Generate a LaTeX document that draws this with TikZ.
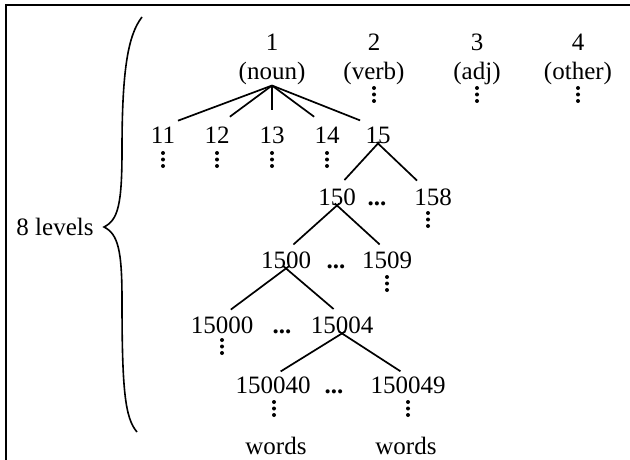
\documentclass[tikz,border=0pt]{standalone}
\usepackage{fontspec}
\setmainfont{Liberation Serif}
\tikzset{
  lbl/.style={inner sep=0pt, anchor=base, font=\fontsize{25}{28}\selectfont},
  ell/.style={inner sep=0pt, anchor=base, font=\fontsize{25}{28}\selectfont\bfseries},
  edge/.style={line width=1.7pt},
  frame/.style={line width=1.8pt},
  vd/.pic={\fill (0,0) circle (2) (0,6.5) circle (2) (0,13) circle (2);}
}
\begin{document}
\begin{tikzpicture}[x=1pt,y=-1pt]
\useasboundingbox (0,0) rectangle (630,460);
% frame
\draw[frame] (630,5) -- (6,5) -- (6,460);
% brace
\draw[line width=1.6pt] (142,17) .. controls (128,35) and (122,70) .. (122,150)
  .. controls (122,205) and (118,220) .. (104,227)
  .. controls (118,234) and (122,250) .. (122,300)
  .. controls (122,390) and (125,418) .. (137,432);
\node[lbl] (lev) at (55,235) {8 levels};
% top level
\node[lbl] (n1) at (272,51) {1};
\node[lbl] (noun) at (272,80) {(noun)};
\node[lbl] (n2) at (374,51) {2};
\node[lbl] (verb) at (374,80) {(verb)};
\node[lbl] (n3) at (477,51) {3};
\node[lbl] (adj) at (477,80) {(adj)};
\node[lbl] (n4) at (578,51) {4};
\node[lbl] (other) at (578,80) {(other)};
\pic at (374,88) {vd};
\pic at (477,88) {vd};
\pic at (578,88) {vd};
% second level
\node[lbl] (n11) at (163,143) {11};
\node[lbl] (n12) at (217,143) {12};
\node[lbl] (n13) at (272,143) {13};
\node[lbl] (n14) at (327,143) {14};
\node[lbl] (n15) at (378,143) {15};
\foreach \n in {n11,n12,n13,n14} \draw[edge,shorten >=16pt] (noun.south) -- (\n.north);
\draw[edge,shorten >=16pt] (noun.south) -- ([xshift=-3pt]n15.north);
\pic at (163,153) {vd};
\pic at (217,153) {vd};
\pic at (272,153) {vd};
\pic at (327,153) {vd};
% third level
\node[lbl] (n150) at (337,205) {150};
\node[ell] (e1) at (377,205) {...};
\node[lbl] (n158) at (433,205) {158};
\draw[edge,shorten >=11pt,shorten <=-2pt] (n15.south) -- (n150.north);
\draw[edge,shorten >=11pt,shorten <=-2pt] (n15.south) -- ([xshift=-8pt]n158.north);
\pic at (428,213) {vd};
% fourth level
\node[lbl] (n1500) at (286,268) {1500};
\node[ell] (e2) at (336,268) {...};
\node[lbl] (n1509) at (387,268) {1509};
\draw[edge,shorten >=10pt,shorten <=-3pt] (n150.south) -- (n1500.north);
\draw[edge,shorten >=10pt,shorten <=-3pt] (n150.south) -- (n1509.north);
\pic at (387,277) {vd};
% fifth level
\node[lbl] (n15000) at (222,333) {15000};
\node[ell] (e3) at (282,333) {...};
\node[lbl] (n15004) at (342,333) {15004};
\draw[edge,shorten >=11pt,shorten <=-4pt] (n1500.south) -- (n15000.north);
\draw[edge,shorten >=11pt,shorten <=-4pt] (n1500.south) -- (n15004.north);
\pic at (222,340) {vd};
% sixth level
\node[lbl] (n150040) at (273,393) {150040};
\node[ell] (e4) at (334,393) {...};
\node[lbl] (n150049) at (408,393) {150049};
\draw[edge,shorten >=9pt,shorten <=-4pt] (n15004.south) -- (n150040.north);
\draw[edge,shorten >=9pt,shorten <=-4pt] (n15004.south) -- (n150049.north);
\pic at (274,402) {vd};
\pic at (408,402) {vd};
% words
\node[lbl] (w1) at (276,454) {words};
\node[lbl] (w2) at (406,454) {words};
\end{tikzpicture}
\end{document}
